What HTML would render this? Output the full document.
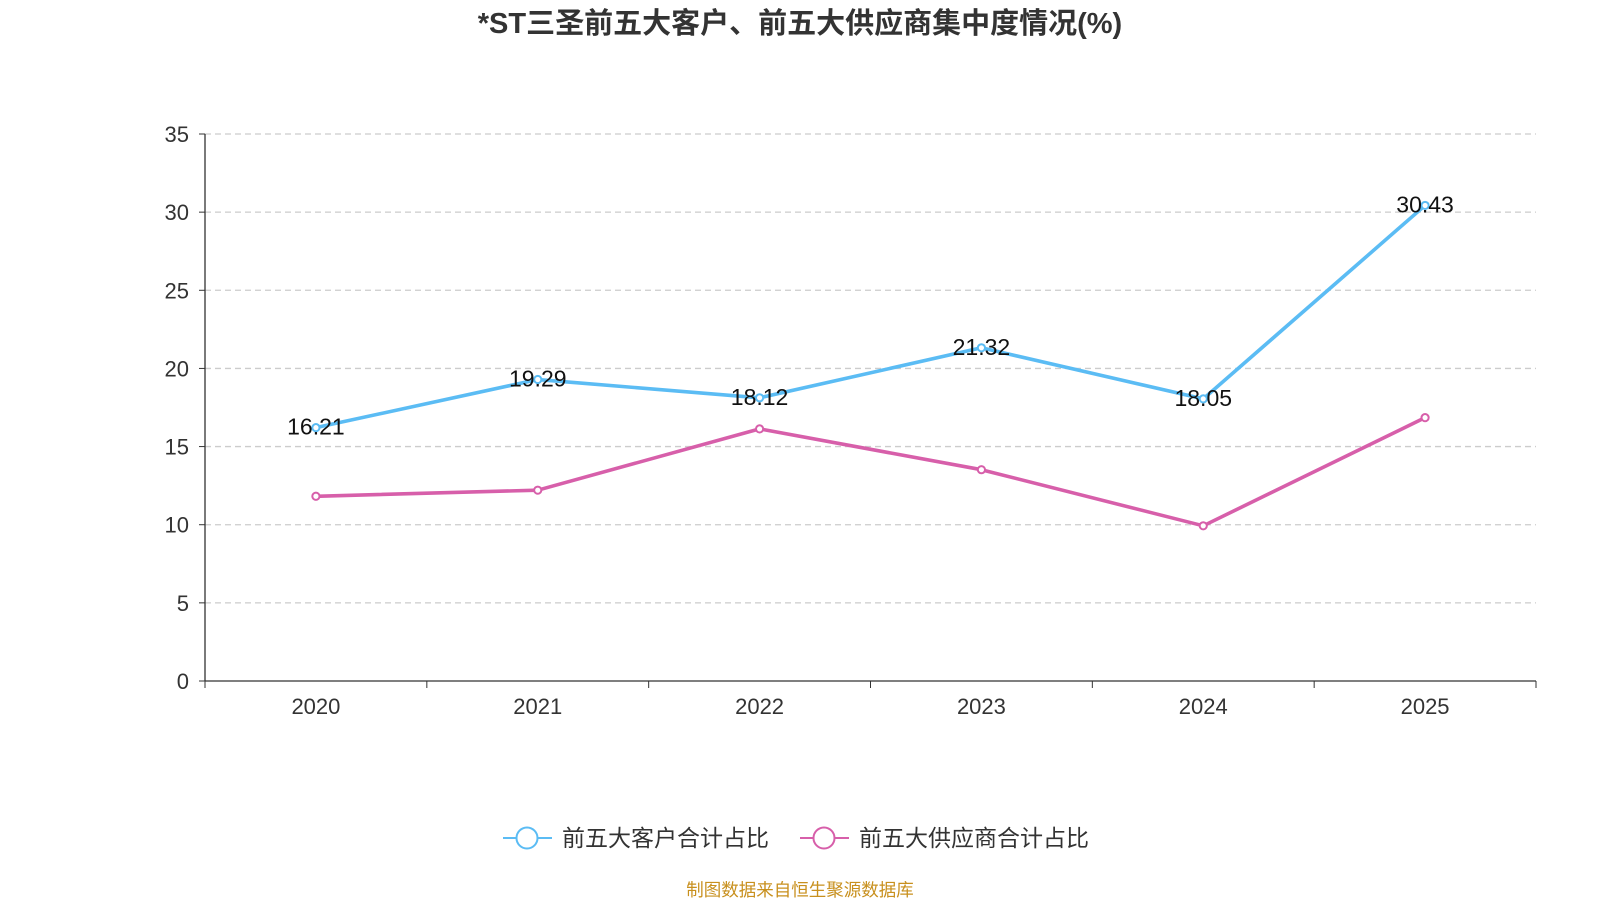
<!DOCTYPE html>
<html><head><meta charset="utf-8">
<style>
body{margin:0;background:#fff;width:1600px;height:900px;overflow:hidden;font-family:"Liberation Sans","Noto Sans CJK SC",sans-serif;}
</style></head>
<body>
<svg id="chart" width="1600" height="900" style="font-family:'Liberation Sans','Noto Sans CJK SC',sans-serif">
<text x="800" y="33" text-anchor="middle" font-size="29" font-weight="bold" fill="#333">*ST三圣前五大客户、前五大供应商集中度情况(%)</text>
<g id="grid"></g><g id="axes"></g><g id="series"></g>
<g>
<g>
<line x1="503" y1="838" x2="552" y2="838" stroke="#5bbcf4" stroke-width="2"/>
<circle cx="527" cy="838" r="10.5" fill="#fff" stroke="#5bbcf4" stroke-width="2"/>
<text x="562" y="846" font-size="23" fill="#333">前五大客户合计占比</text></g>
<g>
<line x1="800" y1="838" x2="849" y2="838" stroke="#d75faa" stroke-width="2"/>
<circle cx="824" cy="838" r="10.5" fill="#fff" stroke="#d75faa" stroke-width="2"/>
<text x="859" y="846" font-size="23" fill="#333">前五大供应商合计占比</text></g>
</g>
<text x="800" y="896" text-anchor="middle" font-size="17.5" fill="#c8901e">制图数据来自恒生聚源数据库</text>
</svg>
<script>
const categories=["2020","2021","2022","2023","2024","2025"];
const customerValues=[16.21,19.29,18.12,21.32,18.05,30.43];
const supplierValues=[11.82,12.21,16.13,13.52,9.93,16.85];
const yTicks=[0,5,10,15,20,25,30,35];
const NS="http://www.w3.org/2000/svg";
const L=205,R=1536,T=134,B=681,yMax=35;
const band=(R-L)/categories.length;
const xs=i=>L+band*(i+0.5);
const ys=v=>B-(v/yMax)*(B-T);
function mk(tag,attrs,parent,text){const e=document.createElementNS(NS,tag);for(const k in attrs)e.setAttribute(k,attrs[k]);if(text!=null)e.textContent=text;parent.appendChild(e);return e;}
const grid=document.getElementById('grid'),axes=document.getElementById('axes'),ser=document.getElementById('series');
yTicks.forEach(t=>{const y=ys(t);
 if(t>0){const g=mk('line',{x1:L,x2:R,y1:y,y2:y,stroke:'#ccc','stroke-dasharray':'6,4','stroke-width':1.3},grid);
 
 }
 mk('line',{x1:L-6,x2:L,y1:y,y2:y,stroke:'#333'},axes);
 const lb=mk('text',{x:L-16,y:y+8,'text-anchor':'end','font-size':22,fill:'#333'},axes,t);
 
 
});
const ya=mk('line',{x1:L,x2:L,y1:T,y2:B,stroke:'#333','stroke-width':1.3},axes);


const xa=mk('line',{x1:L,x2:R,y1:B,y2:B,stroke:'#333','stroke-width':1.3},axes);


for(let i=0;i<=categories.length;i++){mk('line',{x1:L+band*i,x2:L+band*i,y1:B,y2:B+7,stroke:'#333'},axes);}
categories.forEach((c,i)=>{const t=mk('text',{x:xs(i),y:B+33,'text-anchor':'middle','font-size':22,fill:'#333'},axes,c);
 
 });
function drawSeries(vals,color,name,labels){
 const p=mk('polyline',{points:vals.map((v,i)=>xs(i)+','+ys(v)).join(' '),fill:'none',stroke:color,'stroke-width':3.6,'stroke-linejoin':'round'},ser);
 
 
 vals.forEach((v,i)=>{const c=mk('circle',{cx:xs(i),cy:ys(v),r:3.6,fill:'#fff',stroke:color,'stroke-width':2},ser);
  
  
  if(labels){const t=mk('text',{x:xs(i),y:ys(v)+7,'text-anchor':'middle','font-size':23,fill:'#111'},ser,v.toFixed(2));
   
   }
 });
}
drawSeries(supplierValues,'#d75faa','suppliers',false);
drawSeries(customerValues,'#5bbcf4','customers',true);
</script>
</body></html>
